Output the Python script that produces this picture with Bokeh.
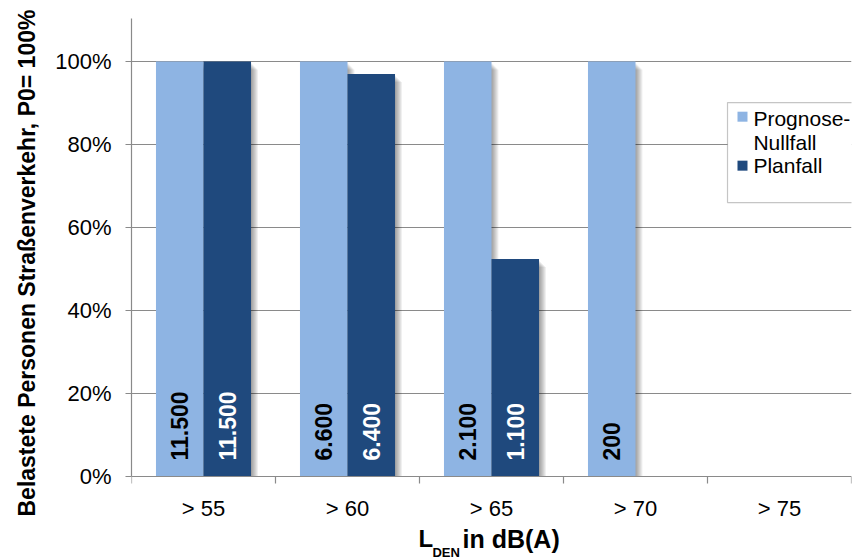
import numpy as np
from bokeh.plotting import figure
from bokeh.models import (ColumnDataSource, FixedTicker, NumeralTickFormatter,
                          Range1d, BoxAnnotation, Title)
from bokeh.core.properties import value
from bokeh.embed import file_html
from bokeh.resources import INLINE

# ---------------- data ----------------
categories = ["> 55", "> 60", "> 65", "> 70", "> 75"]
series_names = ["Prognose-\nNullfall", "Planfall"]
prognose_pct = [1.00, 1.00, 1.00, 1.00, 0.0]
planfall_pct = [1.00, 0.97, 0.524, 0.0, 0.0]
prognose_persons = [11500, 6600, 2100, 200, None]
planfall_persons = [11500, 6400, 1100, None, None]
y_ticks = [0.0, 0.2, 0.4, 0.6, 0.8, 1.0]
y_title = "Belastete Personen Straßenverkehr, P0= 100%"
x_title_parts = ["L", "DEN", "in dB(A)"]

# ---------------- style ----------------
FONT = value("Liberation Sans")
COLORS = ["#8EB4E3", "#1F497D"]
LABEL_COLORS = ["black", "white"]
AXIS_GRAY = "#8a8a8a"
BAR_W = 0.33
HALF = BAR_W / 2

n = len(categories)
centers = np.arange(n) + 0.5
W, H = 852, 559
LEFT, RIGHT, TOP = 131, 1, 18
ZERO_PX = 476          # pixel row of the 0 % line
PX_PER_UNIT = 415      # pixels for 100 %
FRAME_W = W - LEFT - RIGHT
Y_END = (ZERO_PX - TOP) / PX_PER_UNIT
Y_START = -(H - ZERO_PX) / PX_PER_UNIT


def fmt(v):
    return "" if v is None else f"{v:,}".replace(",", ".")


def px_below(dpx):
    """data y for a point dpx pixels below the 0 line"""
    return -dpx / PX_PER_UNIT


p = figure(width=W, height=H, output_backend="svg", toolbar_location=None,
           x_range=Range1d(0, n), y_range=Range1d(Y_START, Y_END),
           x_axis_location="above",
           min_border_left=LEFT, min_border_right=RIGHT, min_border_top=TOP,
           min_border_bottom=0)
p.outline_line_color = None
p.background_fill_color = "white"
p.border_fill_color = "white"

# grid
p.xgrid.visible = False
p.ygrid.ticker = FixedTicker(ticks=y_ticks[1:])
p.ygrid.grid_line_color = AXIS_GRAY
p.ygrid.grid_line_width = 1.2

# y axis
p.yaxis.ticker = FixedTicker(ticks=y_ticks)
p.yaxis.bounds = (0, Y_END)
p.yaxis.formatter = NumeralTickFormatter(format="0%")
p.yaxis.axis_line_color = AXIS_GRAY
p.yaxis.axis_line_width = 1.2
p.yaxis.major_tick_line_color = AXIS_GRAY
p.yaxis.major_tick_line_width = 1.2
p.yaxis.major_tick_out = 6
p.yaxis.major_tick_in = 0
p.yaxis.minor_tick_line_color = None
p.yaxis.major_label_standoff = 14
p.yaxis.major_label_text_font = "Liberation Sans"
p.yaxis.major_label_text_font_size = "22px"
p.yaxis.major_label_text_color = "black"

# x axis: drawn at the 0 line, ticks at category boundaries
p.xaxis.fixed_location = 0
p.xaxis.ticker = FixedTicker(ticks=[], minor_ticks=list(np.arange(n + 1)))
p.xaxis.axis_line_color = AXIS_GRAY
p.xaxis.axis_line_width = 1.2
p.xaxis.major_tick_line_color = None
p.xaxis.major_tick_out = 0
p.xaxis.major_tick_in = 0
p.xaxis.minor_tick_line_color = AXIS_GRAY
p.xaxis.minor_tick_line_width = 1.2
p.xaxis.minor_tick_out = 0
p.xaxis.minor_tick_in = 7
p.xaxis.major_label_standoff = 0

# category labels below the axis
p.text(x=centers, y=np.full(n, px_below(32)), text=categories,
       text_align="center", text_baseline="middle", text_font=FONT,
       text_font_size="22px", text_color="black")

# bars
series = [prognose_pct, planfall_pct]
persons = [prognose_persons, planfall_persons]
offsets = [-HALF, HALF]
dx = n / FRAME_W
dy = 1 / PX_PER_UNIT

# soft drop shadows to the right of the bars
for vals, off in zip(series, offsets):
    vals = np.array(vals)
    for k in range(1, 8):
        p.vbar(x=centers + off + k * dx,
               top=np.where(vals > 0, vals - (k + 1) * dy, 0),
               bottom=0, width=BAR_W, fill_color="black", fill_alpha=0.06,
               line_color=None)

for vals, off, col in zip(series, offsets, COLORS):
    src = ColumnDataSource(dict(x=centers + off, top=vals))
    p.vbar(x="x", top="top", bottom=0, width=BAR_W, source=src,
           fill_color=col, line_color=None)

# bar value labels
for pers, off, tcol in zip(persons, offsets, LABEL_COLORS):
    src = ColumnDataSource(dict(x=centers + off, y=np.zeros(n),
                                t=[fmt(v) for v in pers]))
    p.text(x="x", y="y", text="t", source=src, angle=np.pi / 2,
           text_align="left", text_baseline="middle", y_offset=-16,
           text_font=FONT, text_font_style="bold", text_font_size="23px",
           text_color=tcol)

# legend (manual)
box = BoxAnnotation(left=4.139, right=5.3, top=0.901, bottom=0.660,
                    fill_color="white", fill_alpha=1.0,
                    line_color="#404040", line_width=1.2)
p.add_layout(box)
leg_sq_y = [0.867, 0.749]
leg_tx_y = [0.834, 0.749]
r = p.scatter(x=[4.243, 4.243], y=leg_sq_y, marker="square", size=10,
              fill_color=COLORS, line_color=None)
r.level = "overlay"
r = p.text(x=[4.319, 4.319], y=leg_tx_y, text=series_names,
           text_align="left", text_baseline="middle", text_line_height=1.05,
           text_font=FONT, text_font_size="21px", text_color="black")
r.level = "overlay"

# y axis title
p.add_layout(Title(text=y_title, align="left", offset=H - 516,
                   vertical_align="top", standoff=22,
                   text_font="Liberation Sans", text_font_style="bold",
                   text_font_size="23px", text_color="black"), "left")

# x axis title  L_DEN in dB(A)
p.text(x=[1.993], y=[px_below(62)], text=[x_title_parts[0]],
       text_align="left", text_baseline="middle", text_font=FONT,
       text_font_style="bold", text_font_size="24px", text_color="black")
p.text(x=[2.090], y=[px_below(75.5)], text=[x_title_parts[1]],
       text_align="left", text_baseline="middle", text_font=FONT,
       text_font_style="bold", text_font_size="13px", text_color="black")
p.text(x=[2.299], y=[px_below(62)], text=[x_title_parts[2]],
       text_align="left", text_baseline="middle", text_font=FONT,
       text_font_style="bold", text_font_size="25px", text_color="black")

open("out.html", "w").write(file_html(p, INLINE))
